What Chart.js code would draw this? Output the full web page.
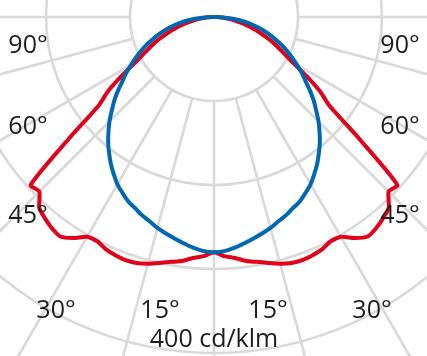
<!DOCTYPE html>
<html lang="en">
<head>
  <meta charset="UTF-8">
  <title>Light distribution curve</title>
  <script src="https://cdn.jsdelivr.net/npm/chart.js"></script>
  <style>
    html, body { margin: 0; padding: 0; background: #fff; }
    #wrap { position: relative; width: 427px; height: 356px; overflow: hidden; background: #fff; }
    #ldc { position: absolute; left: 0; top: 0; }
  </style>
</head>
<body>
  <div id="wrap">
    <canvas id="ldc" width="840" height="840"></canvas>
  </div>

  <script>
    // gamma angles (deg from nadir), one half of the curve - the other half is its mirror
    const gammaDeg = [0, 2.5, 5, 7.5, 10, 12.5, 15, 17.5, 20, 22.5, 25, 27.5, 30, 32.5, 35, 37.5, 40, 42.5,
                      45, 47.5, 50, 52.5, 55, 57.5, 60, 62.5, 65, 67.5, 70, 72.5, 75, 77.5, 80, 82.5, 85, 87.5, 90];
    // intensities in cd/klm
    const blueCd = [280, 279, 276, 272, 268, 264, 260, 255, 251, 246, 242, 236, 230, 222, 214, 205, 196, 186,
                    176, 165, 155, 144, 133, 124, 114, 105, 96, 87, 78, 69, 60, 51, 42, 32, 21, 11, 0];
    const redCd = [280, 285, 288, 293, 296, 300, 304, 307, 308, 307, 305, 301, 302, 312, 319, 317, 313, 308,
                   294, 296, 226, 173, 154, 130, 108, 94, 83, 73, 62, 52, 43, 35, 26, 19, 13, 6, 0];
    const ringValues = [100, 200, 300, 400, 500];
    const angleTickText = ['90°', '60°', '45°', '30°', '15°'];
    const unitText = '400 cd/klm';

    const step = gammaDeg[1] - gammaDeg[0];
    const n = Math.round(360 / step);
    const labels = Array.from({ length: n }, (_, i) => i * step);

    // full circle table for the radar scale: left half, nothing above, right half mirrored
    function fullCircle(vals) {
      const out = new Array(n).fill(0);
      vals.forEach((v, k) => {
        out[k] = v;
        out[(n - k) % n] = v;
      });
      return out;
    }

    const gridColor = '#d9d9d9';
    const textColor = '#1d1d1b';
    const font = '25px "Open Sans", "Noto Sans", sans-serif';

    // white disc inside the first ring, radial lines start from there
    const innerDisc = {
      id: 'innerDisc',
      beforeDatasetsDraw(chart) {
        const r = chart.scales.r;
        const ctx = chart.ctx;
        const rad = r.getDistanceFromCenterForValue(ringValues[0]);
        ctx.save();
        ctx.beginPath();
        ctx.arc(r.xCenter, r.yCenter, rad, 0, Math.PI * 2);
        ctx.fillStyle = '#fff';
        ctx.fill();
        ctx.lineWidth = 2.6;
        ctx.strokeStyle = gridColor;
        ctx.stroke();
        ctx.restore();
      }
    };

    // text offsets from the pole (px), drawn on both sides
    const tickSpots = [[186, 36], [186, 117], [186, 206], [158, 301], [54, 301]];
    const unitSpot = [0, 330];

    const angleText = {
      id: 'angleText',
      afterDatasetsDraw(chart) {
        const r = chart.scales.r;
        const ctx = chart.ctx;
        ctx.save();
        ctx.font = font;
        ctx.fillStyle = textColor;
        ctx.textAlign = 'center';
        ctx.textBaseline = 'alphabetic';
        angleTickText.forEach((t, i) => {
          const [dx, dy] = tickSpots[i];
          ctx.fillText(t, r.xCenter - dx, r.yCenter + dy);
          ctx.fillText(t, r.xCenter + dx, r.yCenter + dy);
        });
        ctx.fillText(unitText, r.xCenter + unitSpot[0], r.yCenter + unitSpot[1]);
        ctx.restore();
      }
    };

    const chart = new Chart(document.getElementById('ldc'), {
      type: 'radar',
      data: {
        labels: labels,
        datasets: [
          { label: 'blue', data: fullCircle(blueCd), borderColor: '#0068b3', borderWidth: 4,
            pointRadius: 0, fill: false, tension: 0.35, borderJoinStyle: 'round' },
          { label: 'red', data: fullCircle(redCd), borderColor: '#e3001b', borderWidth: 4,
            pointRadius: 0, fill: false, tension: 0.2, borderJoinStyle: 'round' }
        ]
      },
      options: {
        responsive: false,
        animation: false,
        plugins: { legend: { display: false }, tooltip: { enabled: false } },
        scales: {
          r: {
            min: 0,
            max: ringValues[ringValues.length - 1],
            startAngle: 180,
            ticks: { display: false, stepSize: 100 },
            pointLabels: { display: false },
            grid: { circular: true, color: gridColor, lineWidth: 2.6 },
            angleLines: {
              color: gridColor,
              lineWidth: (ctx) => (labels[ctx.index] % 15 === 0 ? 2.6 : 0)
            }
          }
        }
      },
      plugins: [innerDisc, angleText]
    });

    // put the pole of the diagram at the top centre of the picture
    const rs = chart.scales.r;
    const canvas = document.getElementById('ldc');
    canvas.style.left = (213.5 - rs.xCenter) + 'px';
    canvas.style.top = (17 - rs.yCenter) + 'px';
  </script>
</body>
</html>
